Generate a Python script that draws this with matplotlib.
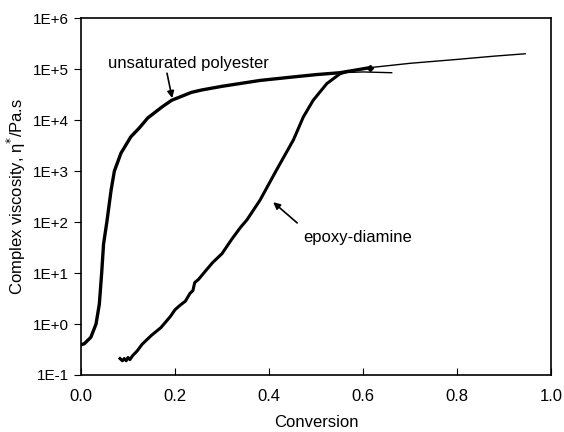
import numpy as np
import matplotlib.pyplot as plt

plt.rcParams['font.family'] = ['Liberation Sans', 'DejaVu Sans']

# unsaturated polyester
up_x = [0.0, 0.007, 0.021, 0.032, 0.039, 0.044, 0.048, 0.055, 0.064, 0.071, 0.085,
        0.106, 0.124, 0.142, 0.172, 0.193, 0.235, 0.257, 0.30, 0.381, 0.45, 0.50, 0.551, 0.615]
up_y = [0.39, 0.41, 0.55, 1.0, 2.45, 10, 37, 100, 420, 1000, 2240,
        4700, 7000, 1.1e4, 1.8e4, 2.45e4, 3.5e4, 3.9e4, 4.6e4, 6.0e4, 7.0e4, 7.8e4, 8.5e4, 1.07e5]
# thin continuation lines
up_tail_x = [0.551, 0.615, 0.70, 0.80, 0.88, 0.945]
up_tail_y = [8.5e4, 1.07e5, 1.3e5, 1.55e5, 1.8e5, 2.0e5]
up_branch_x = [0.551, 0.60, 0.661]
up_branch_y = [8.5e4, 8.8e4, 8.5e4]

# epoxy-diamine
ep_x = [0.083, 0.088, 0.092, 0.096, 0.1, 0.104, 0.11, 0.12, 0.13, 0.15, 0.17, 0.19, 0.2,
        0.21, 0.222, 0.232, 0.238, 0.242, 0.25, 0.265, 0.28, 0.3, 0.32, 0.34, 0.353,
        0.381, 0.416, 0.452, 0.473, 0.494, 0.523, 0.551, 0.565]
ep_y = [0.21, 0.19, 0.21, 0.19, 0.22, 0.2, 0.24, 0.3, 0.4, 0.6, 0.85, 1.4, 1.9,
        2.3, 2.8, 4.0, 4.5, 6.5, 7.5, 11, 16, 24, 45, 80, 110,
        270, 1050, 4100, 1.15e4, 2.45e4, 5.2e4, 8.1e4, 8.9e4]

fig = plt.figure(figsize=(5.64, 4.32), dpi=100)
ax = fig.add_axes([0.1436, 0.132, 0.8334, 0.826])

ax.plot(up_tail_x, up_tail_y, color='black', lw=1.0)
ax.plot(up_branch_x, up_branch_y, color='black', lw=1.0)
ax.plot(up_x, up_y, color='black', lw=2.4)
ax.plot(up_x[-1:], up_y[-1:], marker='D', ms=3, color='black')
ax.plot(ep_x, ep_y, color='black', lw=2.2)

ax.set_yscale('log')
ax.set_xlim(0, 1.0)
ax.set_ylim(0.1, 1e6)
ax.set_xticks(np.arange(0, 1.01, 0.2))
ax.set_xticklabels(['0.0', '0.2', '0.4', '0.6', '0.8', '1.0'])
yt = [1e-1, 1e0, 1e1, 1e2, 1e3, 1e4, 1e5, 1e6]
ax.set_yticks(yt)
ax.set_yticklabels(['1E-1', '1E+0', '1E+1', '1E+2', '1E+3', '1E+4', '1E+5', '1E+6'])
ax.minorticks_off()
ax.tick_params(axis='x', direction='in', length=5, labelsize=12, pad=10)
ax.tick_params(axis='y', direction='out', length=5, labelsize=11)
for s in ax.spines.values():
    s.set_linewidth(1.2)

ax.set_xlabel('Conversion', fontsize=12, labelpad=8)
ax.set_ylabel('Complex viscosity, η$^{*}$/Pa.s', fontsize=12)

arrow = dict(arrowstyle='-|>', color='black', lw=1.2,
             shrinkA=0, shrinkB=0, mutation_scale=10)
ax.text(0.057, 1.3e5, 'unsaturated polyester', fontsize=12, va='center')
ax.annotate('', xy=(0.194, 2.7e4), xytext=(0.183, 8.3e4), arrowprops=arrow)
ax.text(0.472, 49, 'epoxy-diamine', fontsize=12, va='center')
ax.annotate('', xy=(0.409, 245), xytext=(0.46, 96), arrowprops=arrow)

fig.savefig('out.png', dpi=100)
